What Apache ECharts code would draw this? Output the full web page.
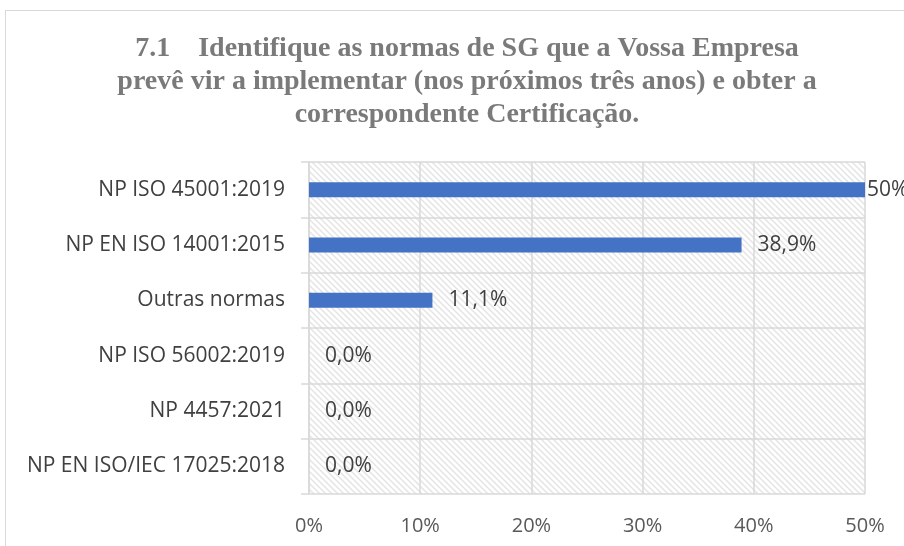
<!DOCTYPE html>
<html>
<head>
<meta charset="utf-8">
<script src="https://cdn.jsdelivr.net/npm/echarts@6/dist/echarts.min.js"></script>
<style>
  html, body { margin: 0; padding: 0; background: #fff; overflow: hidden; }
  #frame { position: absolute; left: 5px; top: 10px; width: 1000px; height: 700px; border: 1px solid #d9d9d9; }
  #main { position: absolute; left: 0; top: 0; width: 904px; height: 546px; }
</style>
</head>
<body>
<div id="frame"></div>
<div id="main"></div>
<script>
// categorias (de cima para baixo)
var categorias = ['NP ISO 45001:2019', 'NP EN ISO 14001:2015', 'Outras normas', 'NP ISO 56002:2019', 'NP 4457:2021', 'NP EN ISO/IEC 17025:2018'];
// percentagens
var valores = [0.5, 0.389, 0.111, 0, 0, 0];
var rotulos = ['50%', '38,9%', '11,1%', '0,0%', '0,0%', '0,0%'];
var ticksEixo = ['0%', '10%', '20%', '30%', '40%', '50%'];

var titulo = '7.1    Identifique as normas de SG que a Vossa Empresa\nprevê vir a implementar (nos próximos três anos) e obter a\ncorrespondente Certificação.';

// padrão tracejado do fundo
function padrao() {
  var c = document.createElement('canvas');
  c.width = 6; c.height = 6;
  var ctx = c.getContext('2d');
  ctx.fillStyle = '#ffffff';
  ctx.fillRect(0, 0, 6, 6);
  ctx.strokeStyle = '#e4e4e4';
  ctx.lineWidth = 1.5;
  ctx.beginPath();
  ctx.moveTo(-6, 0); ctx.lineTo(6, 12);
  ctx.moveTo(0, 0); ctx.lineTo(6, 6);
  ctx.moveTo(0, -6); ctx.lineTo(12, 6);
  ctx.moveTo(-6, -6); ctx.lineTo(6, 6);
  ctx.stroke();
  return c;
}

var dom = document.getElementById('main');
var myChart = echarts.init(dom);

var dados = valores.map(function (v, i) {
  var item = { value: v };
  if (i === 0) item.label = { distance: 2 };
  return item;
});

var fonte = 'Open Sans';

var option = {
  animation: false,
  title: {
    text: titulo,
    left: 462,
    top: 27,
    textAlign: 'center',
    textStyle: {
      fontFamily: 'Liberation Serif',
      fontWeight: 'bold',
      fontSize: 28,
      lineHeight: 33,
      color: '#7a7a7a'
    }
  },
  grid: {
    left: 309,
    right: 39,
    top: 162,
    bottom: 52,
    show: true,
    borderWidth: 0,
    backgroundColor: { image: padrao(), repeat: 'repeat' }
  },
  xAxis: {
    type: 'value',
    min: 0,
    max: 0.5,
    interval: 0.1,
    axisLine: { show: false },
    axisTick: { show: false },
    splitLine: { lineStyle: { color: '#d9d9d9', width: 1.5 } },
    axisLabel: {
      margin: 22,
      fontFamily: fonte,
      fontSize: 20,
      color: '#595959',
      formatter: function (v) { return ticksEixo[Math.round(v * 10)]; }
    }
  },
  yAxis: {
    type: 'category',
    inverse: true,
    data: categorias,
    axisLine: { show: true, lineStyle: { color: '#d9d9d9', width: 1.5 } },
    axisTick: { show: true, length: 8, lineStyle: { color: '#d9d9d9', width: 1.5 } },
    splitLine: { show: true, lineStyle: { color: '#d9d9d9', width: 1.5 } },
    axisLabel: {
      margin: 24,
      fontFamily: fonte,
      fontSize: 21,
      color: '#404040'
    }
  },
  series: [{
    type: 'bar',
    data: dados,
    barWidth: 15,
    itemStyle: { color: '#4472c4' },
    label: {
      show: true,
      position: 'right',
      distance: 16,
      fontFamily: fonte,
      fontSize: 21,
      color: '#404040',
      formatter: function (p) { return rotulos[p.dataIndex]; }
    }
  }]
};

myChart.setOption(option, true);
</script>
</body>
</html>
